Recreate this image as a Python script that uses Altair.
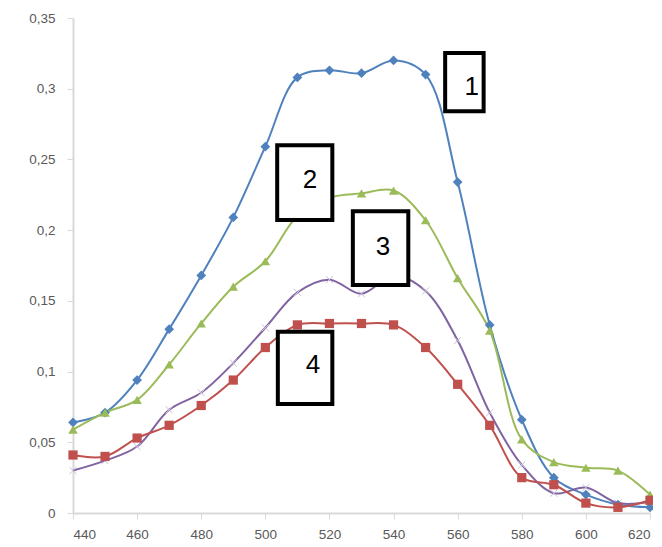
import altair as alt
import pandas as pd

wavelengths = [440, 450, 460, 470, 480, 490, 500, 510, 520, 530,
               540, 550, 560, 570, 580, 590, 600, 610, 620]

series_1 = [0.064, 0.071, 0.094, 0.130, 0.168, 0.209, 0.259, 0.308, 0.313, 0.311,
            0.320, 0.310, 0.234, 0.133, 0.066, 0.025, 0.013, 0.006, 0.004]
series_2 = [0.059, 0.071, 0.080, 0.105, 0.134, 0.160, 0.178, 0.210, 0.223, 0.226,
            0.228, 0.207, 0.166, 0.129, 0.052, 0.036, 0.032, 0.030, 0.013]
series_3 = [0.030, 0.037, 0.047, 0.073, 0.085, 0.106, 0.131, 0.156, 0.165, 0.155,
            0.168, 0.157, 0.122, 0.071, 0.034, 0.014, 0.018, 0.007, 0.008]
series_4 = [0.041, 0.040, 0.053, 0.062, 0.076, 0.094, 0.117, 0.133, 0.134, 0.134,
            0.133, 0.117, 0.091, 0.062, 0.025, 0.020, 0.007, 0.004, 0.009]

series_names = ["1", "2", "3", "4"]
series_colors = ["#4F81BD", "#9BBB59", "#8064A2", "#C0504D"]

# annotation boxes (data coordinates)
box_labels = ["1", "2", "3", "4"]
box_x1 = [556.1, 503.7, 527.3, 503.9]
box_x2 = [568.1, 520.9, 544.6, 520.9]
box_y1 = [0.3252, 0.2600, 0.2133, 0.1282]
box_y2 = [0.2840, 0.2072, 0.1612, 0.0771]
label_x = [564.4, 513.9, 536.7, 514.9]
label_y = [0.3014, 0.2355, 0.1880, 0.1046]

rows = []
for name, vals in zip(series_names, [series_1, series_2, series_3, series_4]):
    for w, v in zip(wavelengths, vals):
        rows.append({"wl": w, "abs": v, "series": name})
df = pd.DataFrame(rows)

boxes = pd.DataFrame({"label": box_labels, "x1": box_x1, "x2": box_x2,
                      "y1": box_y1, "y2": box_y2, "lx": label_x, "ly": label_y})

xs = alt.Scale(domain=[440, 620], nice=False, zero=False)
ys = alt.Scale(domain=[0, 0.35], nice=False)
color = alt.Color("series:N", scale=alt.Scale(domain=series_names, range=series_colors), legend=None)

xax = alt.Axis(values=[440, 460, 480, 500, 520, 540, 560, 580, 600, 620], title=None,
               grid=False, format="d", labelPadding=8)
yax = alt.Axis(values=[0, 0.05, 0.1, 0.15, 0.2, 0.25, 0.3, 0.35], title=None, grid=False,
               labelExpr="replace(format(datum.value, '.2~f'), '.', ',')", labelPadding=12)

base = alt.Chart(df)

lines = base.mark_line(strokeWidth=2, interpolate="catmull-rom").encode(
    x=alt.X("wl:Q", scale=xs, axis=xax),
    y=alt.Y("abs:Q", scale=ys, axis=yax),
    color=color,
)

pts1 = base.transform_filter("datum.series == '1'").mark_point(
    shape="diamond", filled=True, size=95, opacity=1, color="#4F81BD").encode(
    x=alt.X("wl:Q", scale=xs), y=alt.Y("abs:Q", scale=ys))
pts2 = base.transform_filter("datum.series == '2'").mark_point(
    shape="triangle-up", filled=True, size=90, opacity=1, color="#9BBB59").encode(
    x=alt.X("wl:Q", scale=xs), y=alt.Y("abs:Q", scale=ys))
pts4 = base.transform_filter("datum.series == '4'").mark_point(
    shape="square", filled=True, size=85, opacity=1, color="#C0504D").encode(
    x=alt.X("wl:Q", scale=xs), y=alt.Y("abs:Q", scale=ys))
pts3 = base.transform_filter("datum.series == '3'").mark_point(
    shape="M-1,-1L1,1M-1,1L1,-1", filled=False, size=50, opacity=1,
    color="#CCC1DA", strokeWidth=1).encode(
    x=alt.X("wl:Q", scale=xs), y=alt.Y("abs:Q", scale=ys))

rects = alt.Chart(boxes).mark_rect(fill="white", stroke="black", strokeWidth=4).encode(
    x=alt.X("x1:Q", scale=xs), x2="x2:Q",
    y=alt.Y("y1:Q", scale=ys), y2="y2:Q",
)
texts = alt.Chart(boxes).mark_text(fontSize=26, font="Liberation Sans", color="black",
                                   align="center", baseline="middle").encode(
    x=alt.X("lx:Q", scale=xs), y=alt.Y("ly:Q", scale=ys), text="label:N")

chart = alt.layer(lines, pts3, pts1, pts2, pts4, rects, texts).properties(
    width=577, height=495,
    autosize=alt.AutoSizeParams(type="none"),
    padding={"left": 65, "top": 10, "right": 3, "bottom": 28},
).configure_view(stroke=None).configure_axis(
    domainColor="#D9D9D9", domainWidth=2, tickColor="#D9D9D9", tickSize=6, tickWidth=1,
    labelColor="#595959", labelFont="Liberation Sans", labelFontSize=13.5,
)

chart.save("out.html", embed_options={"renderer": "svg", "actions": False})
